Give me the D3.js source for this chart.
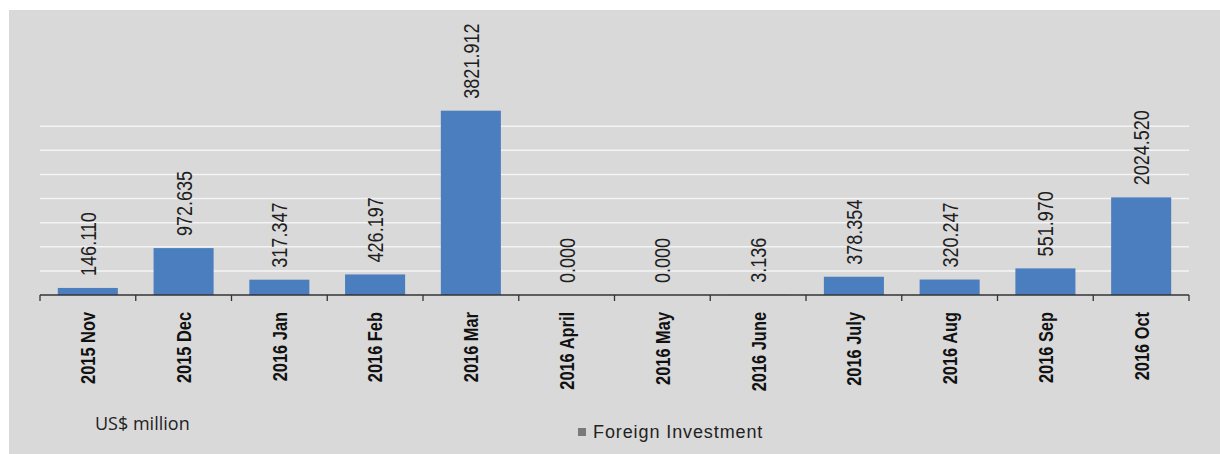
<!DOCTYPE html>
<html>
<head>
<meta charset="utf-8">
<script src="https://cdn.jsdelivr.net/npm/d3@7"></script>
<style>
  html, body { margin: 0; padding: 0; background: #ffffff; }
  svg { display: block; }
</style>
</head>
<body>
<svg id="chart" width="1220" height="454"></svg>
<script>
const categories = ["2015 Nov", "2015 Dec", "2016 Jan", "2016 Feb", "2016 Mar", "2016 April",
                    "2016 May", "2016 June", "2016 July", "2016 Aug", "2016 Sep", "2016 Oct"];
const values = [146.110, 972.635, 317.347, 426.197, 3821.912, 0.000,
                0.000, 3.136, 378.354, 320.247, 551.970, 2024.520];
const gridTicks = [500, 1000, 1500, 2000, 2500, 3000, 3500];
const seriesName = "Foreign Investment";
const unitLabel = "US$ million";

const svg = d3.select("#chart");

// panel background
svg.append("rect").attr("x", 9).attr("y", 10).attr("width", 1211).attr("height", 444)
  .attr("fill", "#d9d9d9");

const x = d3.scaleBand().domain(categories).range([40, 1189]).paddingInner(0.373).paddingOuter(0.186);
const y = d3.scaleLinear().domain([0, 4000]).range([295, 102.1]);

// gridlines
svg.append("g").selectAll("line").data(gridTicks).join("line")
  .attr("x1", 40).attr("x2", 1189)
  .attr("y1", d => y(d)).attr("y2", d => y(d))
  .attr("stroke", "#f4f4f4").attr("stroke-width", 1.5);

// bars
svg.append("g").selectAll("rect").data(values).join("rect")
  .attr("x", (d, i) => x(categories[i]))
  .attr("y", d => y(d))
  .attr("width", x.bandwidth())
  .attr("height", d => y(0) - y(d))
  .attr("fill", "#4a7ebf");

// axis line with tick marks at band boundaries
const bounds = d3.range(categories.length + 1).map(i => 40 + i * (1149 / categories.length));
const axisG = svg.append("g");
axisG.append("line").attr("x1", 40).attr("x2", 1189).attr("y1", y(0)).attr("y2", y(0))
  .attr("stroke", "#333").attr("stroke-width", 1.5);
axisG.selectAll("line.tick").data(bounds).join("line").attr("class", "tick")
  .attr("x1", d => d).attr("x2", d => d)
  .attr("y1", y(0)).attr("y2", y(0) + 6)
  .attr("stroke", "#333").attr("stroke-width", 1.3);

// value labels
svg.append("g").selectAll("text").data(values).join("text")
  .attr("transform", (d, i) => {
    const cx = x(categories[i]) + x.bandwidth() / 2;
    return `translate(${cx},${y(d) - 12}) rotate(-90) scale(0.82,1)`;
  })
  .attr("dy", "0.36em")
  .attr("text-anchor", "start")
  .attr("font-family", "'Liberation Sans', Arial, sans-serif")
  .attr("font-size", 22)
  .attr("fill", "#1e1e1e")
  .text(d => d.toFixed(3));

// category labels
svg.append("g").selectAll("text").data(categories).join("text")
  .attr("transform", d => {
    const cx = x(d) + x.bandwidth() / 2;
    return `translate(${cx},312) rotate(-90) scale(0.8,1)`;
  })
  .attr("dy", "0.36em")
  .attr("text-anchor", "end")
  .attr("font-family", "'Liberation Sans', Arial, sans-serif")
  .attr("font-weight", "bold")
  .attr("font-size", 20.5)
  .attr("fill", "#111")
  .text(d => d);

// unit label
svg.append("text").attr("x", 95).attr("y", 430)
  .attr("font-family", "'Open Sans', sans-serif").attr("font-size", 18)
  .attr("fill", "#222").text(unitLabel);

// legend
svg.append("rect").attr("x", 578).attr("y", 428).attr("width", 8).attr("height", 8)
  .attr("fill", "#7a7a7a");
svg.append("text").attr("x", 593).attr("y", 438)
  .attr("font-family", "'Liberation Sans', Arial, sans-serif").attr("font-size", 18)
  .attr("letter-spacing", 0.9)
  .attr("fill", "#222").text(seriesName);
</script>
</body>
</html>
